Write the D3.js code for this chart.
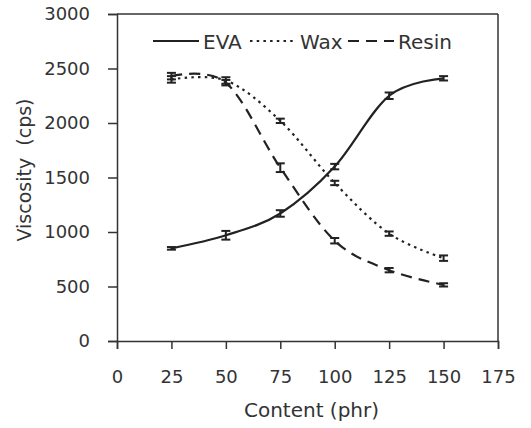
<!DOCTYPE html>
<html>
<head>
<meta charset="utf-8">
<script src="https://cdn.jsdelivr.net/npm/d3@7"></script>
<style>
  body { margin: 0; background: #fff; }
  text { font-family: "DejaVu Sans", sans-serif; fill: #333; }
</style>
</head>
<body>
<div id="chart"></div>
<script>
// content (phr)
var content = [25, 50, 75, 100, 125, 150];
var eva = [850, 970, 1170, 1600, 2250, 2410];
var evaErr = [12, 40, 30, 25, 30, 20];
var wax = [2400, 2390, 2020, 1450, 985, 760];
var waxErr = [30, 30, 20, 20, 20, 25];
var resin = [2430, 2370, 1590, 920, 650, 515];
var resinErr = [30, 25, 40, 25, 20, 15];
var xTicks = [0, 25, 50, 75, 100, 125, 150, 175];
var yTicks = [0, 500, 1000, 1500, 2000, 2500, 3000];

var dotted = "2.5,4.2", dashed = "11,7";

var series = [
    {name: "EVA", values: eva, err: evaErr, dash: null},
    {name: "Wax", values: wax, err: waxErr, dash: dotted},
    {name: "Resin", values: resin, err: resinErr, dash: dashed}
];

var width = 531, height = 428;
var margin = {left: 117, right: 33, top: 14, bottom: 87};

var svg = d3.select("#chart").append("svg")
    .attr("width", width)
    .attr("height", height);

var x = d3.scaleLinear().domain([0, 175]).range([margin.left, width - margin.right]);
var y = d3.scaleLinear().domain([0, 3000]).range([height - margin.bottom, margin.top]);

// frame: top and right lines
svg.append("line")
    .attr("x1", x(0)).attr("x2", x(175))
    .attr("y1", y(3000)).attr("y2", y(3000))
    .attr("stroke", "#333").attr("stroke-width", 1.5);
svg.append("line")
    .attr("x1", x(175)).attr("x2", x(175))
    .attr("y1", y(3000)).attr("y2", y(0))
    .attr("stroke", "#333").attr("stroke-width", 1.5);

var xAxis = svg.append("g")
    .attr("transform", "translate(0," + y(0) + ")")
    .call(d3.axisBottom(x).tickValues(xTicks).tickSize(8).tickPadding(21).tickFormat(d3.format("d")));
var yAxis = svg.append("g")
    .attr("transform", "translate(" + x(0) + ",0)")
    .call(d3.axisLeft(y).tickValues(yTicks).tickSize(9).tickPadding(18).tickFormat(d3.format("d")));

[xAxis, yAxis].forEach(function (g) {
    g.select(".domain").attr("stroke", "#333").attr("stroke-width", 1.5);
    g.selectAll(".tick line").attr("stroke", "#333").attr("stroke-width", 1.5);
    g.selectAll(".tick text").attr("font-size", 18).attr("fill", "#333")
        .style("font-family", "DejaVu Sans, sans-serif");
});

var line = d3.line()
    .x(function (d, i) { return x(content[i]); })
    .y(function (d) { return y(d); })
    .curve(d3.curveCardinal.tension(0));

series.forEach(function (s) {
    svg.append("path")
        .datum(s.values)
        .attr("d", line)
        .attr("fill", "none")
        .attr("stroke", "#222")
        .attr("stroke-width", 2.2)
        .attr("stroke-dasharray", s.dash);

    var bars = svg.append("g");
    s.values.forEach(function (v, i) {
        var cx = x(content[i]);
        bars.append("line")
            .attr("x1", cx).attr("x2", cx)
            .attr("y1", y(v - s.err[i])).attr("y2", y(v + s.err[i]))
            .attr("stroke", "#222").attr("stroke-width", 2);
        [v - s.err[i], v + s.err[i]].forEach(function (e) {
            bars.append("line")
                .attr("x1", cx - 4.5).attr("x2", cx + 4.5)
                .attr("y1", y(e)).attr("y2", y(e))
                .attr("stroke", "#222").attr("stroke-width", 2);
        });
    });
});

// legend
var legendItems = [
    {name: "EVA", dash: null, x0: 153},
    {name: "Wax", dash: dotted, x0: 250},
    {name: "Resin", dash: dashed, x0: 348}
];
var ly = 41;
legendItems.forEach(function (d) {
    svg.append("line")
        .attr("x1", d.x0).attr("x2", d.x0 + 46)
        .attr("y1", ly).attr("y2", ly)
        .attr("stroke", "#222").attr("stroke-width", 2.2)
        .attr("stroke-dasharray", d.dash);
    svg.append("text")
        .attr("x", d.x0 + 50)
        .attr("y", ly + 8)
        .attr("font-size", 20)
        .text(d.name);
});

// axis titles
svg.append("text")
    .attr("x", (x(0) + x(175)) / 2 + 4)
    .attr("y", 417)
    .attr("text-anchor", "middle")
    .attr("font-size", 20)
    .text("Content (phr)");

svg.append("text")
    .attr("transform", "translate(31," + 170 + ") rotate(-90)")
    .attr("text-anchor", "middle")
    .attr("font-size", 19)
    .attr("xml:space", "preserve")
    .text("Viscosity  (cps)");
</script>
</body>
</html>
